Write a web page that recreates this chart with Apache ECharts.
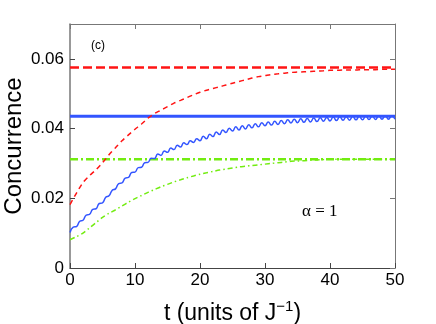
<!DOCTYPE html>
<html>
<head>
<meta charset="utf-8">
<script src="https://cdn.jsdelivr.net/npm/echarts@6/dist/echarts.min.js"></script>
<style>
  html, body { margin: 0; padding: 0; background: #fff; }
  #chart-container { width: 436px; height: 324px; }
</style>
</head>
<body>
<div id="chart-container"></div>
<script>
// time axis, units of 1/J
var times = [];
for (var i = 0; i <= 50; i++) times.push(i);
var halfTimes = [];
for (var j = 0; j <= 100; j++) halfTimes.push(j / 2);

// concurrence, one value per unit of t
var redCurve = [0.0182, 0.0215, 0.0245, 0.0265, 0.0282, 0.0302, 0.0325, 0.0345, 0.0365, 0.0382,
  0.0398, 0.0413, 0.0430, 0.0443, 0.0453, 0.0463, 0.0473, 0.0481, 0.0489, 0.0497,
  0.0504, 0.0510, 0.0515, 0.0520, 0.0525, 0.0530, 0.0535, 0.0540, 0.0545, 0.0549,
  0.0552, 0.0555, 0.0557, 0.0559, 0.0561, 0.0562, 0.0563, 0.0564, 0.0565, 0.0566,
  0.0567, 0.0567, 0.0568, 0.0568, 0.0568, 0.0569, 0.0569, 0.0569, 0.0570, 0.0570, 0.0570];
// blue is read every half unit so its ripple shows
var blueCurve = [0.0102, 0.0117, 0.0119, 0.0134, 0.0137, 0.0152, 0.0154, 0.0168, 0.0170, 0.0185,
  0.0187, 0.0203, 0.0207, 0.0223, 0.0227, 0.0242, 0.0244, 0.0258, 0.0260, 0.0274,
  0.0275, 0.0288, 0.0289, 0.0302, 0.0303, 0.0315, 0.0314, 0.0327, 0.0323, 0.0336,
  0.0332, 0.0344, 0.0340, 0.0352, 0.0347, 0.0359, 0.0354, 0.0365, 0.0360, 0.0371,
  0.0365, 0.0378, 0.0371, 0.0384, 0.0377, 0.0390, 0.0383, 0.0396, 0.0389, 0.0401,
  0.0393, 0.0405, 0.0396, 0.0408, 0.0399, 0.0411, 0.0402, 0.0414, 0.0405, 0.0417,
  0.0408, 0.0419, 0.0410, 0.0421, 0.0412, 0.0423, 0.0414, 0.0425, 0.0416, 0.0427,
  0.0417, 0.0428, 0.0418, 0.0429, 0.0419, 0.0430, 0.0420, 0.0431, 0.0421, 0.0432,
  0.0422, 0.0433, 0.0423, 0.0434, 0.0424, 0.0434, 0.0424, 0.0435, 0.0425, 0.0435,
  0.0425, 0.0436, 0.0426, 0.0436, 0.0426, 0.0437, 0.0427, 0.0437, 0.0427, 0.0437, 0.0427];
var greenCurve = [0.0081, 0.0090, 0.0100, 0.0115, 0.0130, 0.0145, 0.0157, 0.0167, 0.0178, 0.0189,
  0.0199, 0.0208, 0.0217, 0.0225, 0.0233, 0.0240, 0.0247, 0.0253, 0.0259, 0.0264,
  0.0269, 0.0273, 0.0277, 0.0281, 0.0284, 0.0287, 0.0290, 0.0292, 0.0294, 0.0296,
  0.0298, 0.0300, 0.0302, 0.0304, 0.0306, 0.0307, 0.0308, 0.0309, 0.0310, 0.0311,
  0.0312, 0.0312, 0.0312, 0.0312, 0.0312, 0.0312, 0.0312, 0.0312, 0.0312, 0.0312, 0.0312];

// steady-state levels (horizontal lines)
var levelT = [0, 50];
var redLevel = 0.0575;
var blueLevel = 0.0435;
var greenLevel = 0.0312;

function pairs(xs, ys) {
  return xs.map(function (x, k) { return [x, ys[k]]; });
}
function flat(v) {
  return levelT.map(function (x) { return [x, v]; });
}

var RED = "#ff1414";
var BLUE = "#3355ff";
var GREEN = "#72ec10";
var AXIS = "#444";

var dom1 = document.getElementById("chart-container");
var myChart1 = echarts.init(dom1, null, { renderer: "canvas" });

var tickFont = { fontFamily: "Liberation Sans", fontSize: 17, color: "#000" };

var option1 = {
  animation: false,
  grid: { left: 70, right: 41, top: 24, bottom: 56, containLabel: false, outerBoundsMode: "none" },
  xAxis: [
    {
      type: "value",
      min: 0,
      max: 50,
      interval: 10,
      name: "t (units of J{sup|\u22121})",
      nameLocation: "middle",
      nameGap: 31,
      nameTextStyle: {
        fontFamily: "Liberation Sans",
        fontSize: 23,
        color: "#000",
        rich: { sup: { fontFamily: "Liberation Sans", fontSize: 15, color: "#000", verticalAlign: "top", padding: [0, 0, 14, 0] } },
      },
      axisLine: { onZero: false, lineStyle: { color: AXIS, width: 1 } },
      axisTick: { inside: true, length: 5, lineStyle: { color: AXIS } },
      axisLabel: Object.assign({ margin: 4 }, tickFont),
      splitLine: { show: false },
    },
    {
      type: "value",
      position: "top",
      min: 0,
      max: 50,
      interval: 10,
      axisLine: { show: true, onZero: false, lineStyle: { color: "#777", width: 1 } },
      axisTick: { show: true, inside: true, length: 5, lineStyle: { color: "#777" } },
      axisLabel: { show: false },
      splitLine: { show: false },
    },
  ],
  yAxis: [
    {
      type: "value",
      min: 0,
      max: 0.07,
      interval: 0.02,
      name: "Concurrence",
      nameLocation: "middle",
      nameGap: 56,
      nameMoveOverlap: false,
      nameTextStyle: { fontFamily: "Liberation Sans", fontSize: 24, color: "#000", verticalAlign: "middle" },
      axisLine: { show: true, onZero: false, lineStyle: { color: "#777", width: 1.5 } },
      axisTick: { show: true, inside: true, length: 5, lineStyle: { color: AXIS } },
      axisLabel: Object.assign({
        margin: 6,
        showMaxLabel: false,
        formatter: function (v) {
          return v === 0 ? "0" : v.toFixed(2);
        },
      }, tickFont),
      splitLine: { show: false },
    },
    {
      type: "value",
      position: "right",
      min: 0,
      max: 0.07,
      interval: 0.02,
      axisLine: { show: true, onZero: false, lineStyle: { color: "#777", width: 1 } },
      axisTick: { show: true, inside: true, length: 5, lineStyle: { color: "#777" } },
      axisLabel: { show: false },
      splitLine: { show: false },
    },
  ],
  graphic: [
    {
      type: "text",
      left: 91,
      top: 40,
      style: { text: "(c)", font: "12px 'Liberation Sans'", fill: "#000" },
    },
    {
      type: "text",
      left: 302,
      top: 203,
      style: { text: "\u03b1 = 1", font: "17px 'Liberation Serif'", fill: "#000" },
    },
  ],
  series: [
    {
      type: "line",
      data: flat(redLevel),
      symbol: "none",
      lineStyle: { color: RED, width: 2.5, type: [9, 4] },
      z: 3,
    },
    {
      type: "line",
      data: flat(blueLevel),
      symbol: "none",
      lineStyle: { color: BLUE, width: 3 },
      z: 3,
    },
    {
      type: "line",
      data: flat(greenLevel),
      symbol: "none",
      lineStyle: { color: GREEN, width: 2.5, type: [8, 3, 2, 3] },
      z: 3,
    },
    {
      type: "line",
      data: pairs(times, redCurve),
      symbol: "none",
      smooth: 0.3,
      lineStyle: { color: RED, width: 1.5, type: [5, 4] },
    },
    {
      type: "line",
      data: pairs(halfTimes, blueCurve),
      symbol: "none",
      smooth: 0.5,
      lineStyle: { color: BLUE, width: 1.5 },
    },
    {
      type: "line",
      data: pairs(times, greenCurve),
      symbol: "none",
      smooth: 0.3,
      lineStyle: { color: GREEN, width: 1.5, type: [5, 3, 1.5, 3] },
    },
  ],
};

if (option1 && typeof option1 === "object") {
  myChart1.setOption(option1);
}
window.addEventListener("resize", myChart1.resize);
</script>
</body>
</html>
